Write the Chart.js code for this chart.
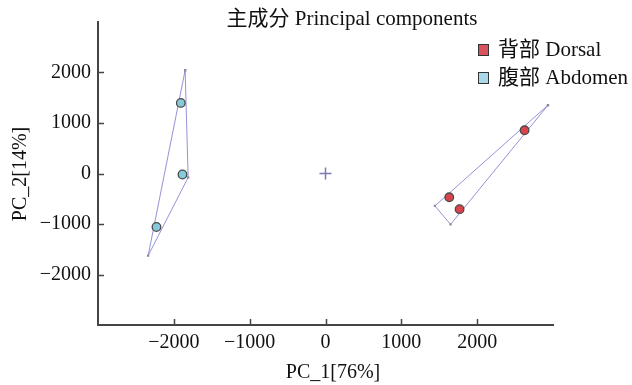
<!DOCTYPE html>
<html>
<head>
<meta charset="utf-8">
<script src="https://cdn.jsdelivr.net/npm/chart.js@4.4.1/dist/chart.umd.min.js"></script>
<style>
  html, body { margin: 0; padding: 0; background: #fff; }
</style>
</head>
<body>
<canvas id="pca" width="632" height="385"></canvas>
<script>
const titleText = "主成分 Principal components"
const xTitle = "PC_1[76%]"
const yTitle = "PC_2[14%]"
const groupNames = ["背部 Dorsal", "腹部 Abdomen"]
const pointColors = ["#d9434b", "#86c9da"]
const legendColors = ["#d9535c", "#a9d9e8"]

// sample scores
const dorsalPc1 = [2625, 1632, 1768]
const dorsalPc2 = [855, -471, -706]
const abdomenPc1 = [-1908, -1886, -2229]
const abdomenPc2 = [1398, -20, -1059]

// outline polygons round each group (closed)
const dorsalHullPc1 = [2934, 1443, 1649, 2934]
const dorsalHullPc2 = [1353, -641, -1008, 1353]
const abdomenHullPc1 = [-1851, -1811, -2339, -1851]
const abdomenHullPc2 = [2045, -78, -1627, 2045]

const axisTicks = [-2000, -1000, 0, 1000, 2000]
const axisMin = -3000
const axisMax = 3000

const serif = "'Liberation Serif', 'Times New Roman', 'Noto Sans CJK SC', serif"
const toPoints = (xs, ys) => xs.map((x, i) => ({ x: x, y: ys[i] }))
const fmt = v => (v < 0 ? "\u2212" + Math.abs(v) : String(v))

const hullStyle = {
  showLine: true,
  borderColor: "rgba(120, 120, 205, 0.8)",
  borderWidth: 1,
  pointStyle: "rect",
  pointRadius: 1.6,
  pointBackgroundColor: "#8a8a9c",
  pointBorderWidth: 0,
  order: 3
}

// ticks pointing into the plot, plus title, axis titles and legend
const decorations = {
  id: "decorations",
  afterDraw(chart) {
    const ctx = chart.ctx
    const area = chart.chartArea
    const xs = chart.scales.x
    const ys = chart.scales.y
    ctx.save()
    ctx.strokeStyle = "#444"
    ctx.lineWidth = 1.5
    axisTicks.forEach(v => {
      const px = Math.round(xs.getPixelForValue(v)) + 0.5
      ctx.beginPath()
      ctx.moveTo(px, area.bottom)
      ctx.lineTo(px, area.bottom - 6)
      ctx.stroke()
      const py = Math.round(ys.getPixelForValue(v)) + 0.5
      ctx.beginPath()
      ctx.moveTo(area.left, py)
      ctx.lineTo(area.left + 6, py)
      ctx.stroke()
    })

    ctx.fillStyle = "#111"
    ctx.textBaseline = "alphabetic"
    ctx.textAlign = "center"
    ctx.font = "21px " + serif
    ctx.fillText(titleText, 352, 25)
    ctx.font = "20px " + serif
    ctx.fillText(xTitle, 333, 378)

    ctx.save()
    ctx.translate(26, 174)
    ctx.rotate(-Math.PI / 2)
    ctx.fillText(yTitle, 0, 0)
    ctx.restore()

    ctx.textAlign = "left"
    ctx.font = "21px " + serif
    groupNames.forEach((name, i) => {
      const top = 44 + i * 28
      ctx.fillStyle = legendColors[i]
      ctx.fillRect(478, top, 11, 12)
      ctx.strokeStyle = "#333"
      ctx.lineWidth = 1
      ctx.strokeRect(478.5, top + 0.5, 10, 11)
      ctx.fillStyle = "#111"
      ctx.fillText(name, 498, top + 12)
    })
    ctx.restore()
  }
}

const scaleBase = {
  type: "linear",
  min: axisMin,
  max: axisMax,
  afterBuildTicks: axis => { axis.ticks = axisTicks.map(v => ({ value: v })) },
  grid: { display: false, drawTicks: false },
  border: { display: true, color: "#444", width: 2 },
  ticks: {
    color: "#111",
    font: { family: serif, size: 20 },
    callback: v => fmt(v)
  }
}

new Chart(document.getElementById("pca").getContext("2d"), {
  type: "scatter",
  data: {
    datasets: [
      {
        label: groupNames[0],
        data: toPoints(dorsalPc1, dorsalPc2),
        backgroundColor: pointColors[0],
        borderColor: "#4a4a4a",
        borderWidth: 1.3,
        pointRadius: 4.3,
        order: 1
      },
      {
        label: groupNames[1],
        data: toPoints(abdomenPc1, abdomenPc2),
        backgroundColor: pointColors[1],
        borderColor: "#4a4a4a",
        borderWidth: 1.3,
        pointRadius: 4.3,
        order: 1
      },
      {
        label: "origin",
        data: [{ x: 0, y: 0 }],
        pointStyle: "cross",
        pointRadius: 6,
        borderColor: "#7a7ab8",
        borderWidth: 1.5,
        order: 2
      },
      Object.assign({ label: "dorsal outline", data: toPoints(dorsalHullPc1, dorsalHullPc2) }, hullStyle),
      Object.assign({ label: "abdomen outline", data: toPoints(abdomenHullPc1, abdomenHullPc2) }, hullStyle)
    ]
  },
  options: {
    responsive: false,
    animation: false,
    devicePixelRatio: 1,
    layout: { padding: { top: 22, right: 79, bottom: 0, left: 0 } },
    plugins: {
      legend: { display: false },
      title: { display: false },
      tooltip: { enabled: false }
    },
    scales: {
      x: Object.assign({}, scaleBase, {
        position: "bottom",
        ticks: Object.assign({}, scaleBase.ticks, { padding: 6, maxRotation: 0 }),
        afterFit: scale => { scale.height = 60 }
      }),
      y: Object.assign({}, scaleBase, {
        position: "left",
        ticks: Object.assign({}, scaleBase.ticks, { padding: 7 }),
        afterFit: scale => { scale.width = 98 }
      })
    }
  },
  plugins: [decorations]
})
</script>
</body>
</html>
